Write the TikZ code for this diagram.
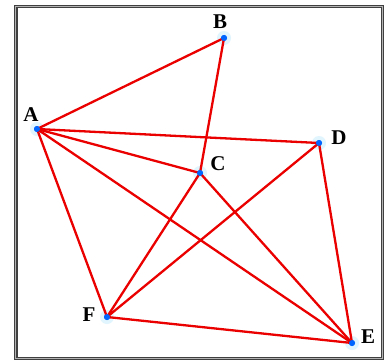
\documentclass[tikz,border=0pt]{standalone}
\usepackage{fontspec}
\setmainfont{Liberation Serif}
\newcommand{\lblfont}{\fontsize{21}{23}\selectfont\bfseries}
\begin{document}
\begin{tikzpicture}[x=1pt,y=-1pt,
  vtx/.style={circle,fill=blue!60!cyan,inner sep=0pt,minimum size=6pt},
  glow/.style={circle,fill=cyan!12,inner sep=0pt,minimum size=14pt},
  edge/.style={draw=red!92!black,line width=2.3pt},
  lbl/.style={inner sep=0pt}]
\useasboundingbox (0,0) rectangle (385,361);
\fill[white] (0,0) rectangle (385,361);
% frame
\draw[line width=3.6pt,black!75] (15.7,6.7) rectangle (382.5,358.5);
\draw[line width=1.3pt,black!30] (15.7,6.7) rectangle (382.5,358.5);
% glow
\foreach \p in {(224,38),(37,129),(319,143),(200,173),(107,317),(352,343)}
  \node[glow] at \p {};
% vertices
\node[vtx] (B) at (224,38) {};
\node[vtx] (A) at (37,129) {};
\node[vtx] (D) at (319,143) {};
\node[vtx] (C) at (200,173) {};
\node[vtx] (F) at (107,317) {};
\node[vtx] (E) at (352,343) {};
% edges
\draw[edge] (A.center) -- (B.center);
\draw[edge] (B.center) -- (C.center);
\draw[edge] (A.center) -- (D.center);
\draw[edge] (A.center) -- (C.center);
\draw[edge] (A.center) -- (F.center);
\draw[edge] (A.center) -- (E.center);
\draw[edge] (C.center) -- (F.center);
\draw[edge] (C.center) -- (E.center);
\draw[edge] (D.center) -- (F.center);
\draw[edge] (D.center) -- (E.center);
\draw[edge] (F.center) -- (E.center);
% redraw vertices on top
\foreach \n in {A,B,C,D,E,F}
  \fill[blue!60!cyan] (\n) circle (3pt);
% labels
\node[lbl] (lB) at (220,22) {\lblfont B};
\node[lbl] (lA) at (31,115) {\lblfont A};
\node[lbl] (lD) at (339,138) {\lblfont D};
\node[lbl] (lC) at (218,164) {\lblfont C};
\node[lbl] (lF) at (89,315) {\lblfont F};
\node[lbl] (lE) at (368,337) {\lblfont E};
\end{tikzpicture}
\end{document}
